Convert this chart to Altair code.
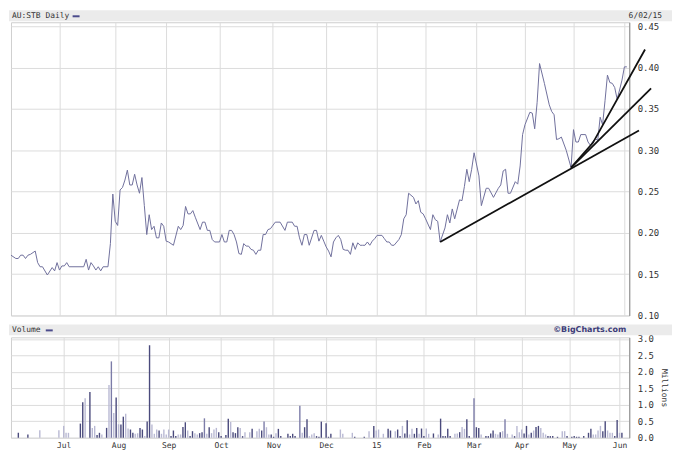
import altair as alt
import pandas as pd

# ---- data (trading-day index from 2 Jun 2014 to 2 Jun 2015) ----
month_days = [20, 43, 64, 86, 108, 130, 151, 171, 192, 212, 232, 253]
month_labels = ["Jul", "Aug", "Sep", "Oct", "Nov", "Dec", "15", "Feb", "Mar", "Apr", "May", "Jun"]

price_day = [
    0, 2, 3, 4, 5, 6, 7, 8, 10, 11,
    12, 13, 15, 17, 18, 19, 20, 21, 22, 23,
    24, 30, 31, 32, 33, 34, 35, 36, 37, 38,
    40, 41, 42, 43, 44, 45, 46, 47, 48, 49,
    50, 51, 52, 53, 54, 55, 56, 57, 58, 59,
    60, 61, 62, 63, 64, 65, 67, 69, 70, 71,
    72, 73, 74, 75, 76, 78, 79, 80, 81, 82,
    83, 84, 86, 87, 88, 89, 90, 91, 92, 93,
    94, 95, 96, 97, 98, 99, 100, 101, 102, 103,
    104, 105, 106, 107, 109, 111, 113, 114, 116, 117,
    118, 119, 120, 121, 122, 123, 125, 126, 127, 128,
    129, 130, 131, 132, 133, 134, 135, 136, 137, 138,
    139, 140, 141, 142, 143, 144, 145, 146, 147, 148,
    149, 150, 151, 153, 154, 155, 156, 157, 158, 160,
    161, 162, 163, 164, 166, 167, 168, 169, 170, 171,
    173, 174, 175, 176, 177, 179, 180, 181, 182, 183,
    185, 186, 187, 188, 189, 190, 191, 193, 194, 196,
    197, 199, 201, 202, 203, 204, 205, 206, 208, 209,
    210, 211, 212, 214, 215, 216, 217, 218, 220, 222,
    223, 224, 225, 226, 227, 229, 231, 232, 233, 234,
    235, 237, 238, 239, 240, 241, 242, 243, 244, 245,
    246, 247, 248, 249, 250, 251, 252, 253, 254]
price_val = [
    0.173, 0.169, 0.169, 0.173, 0.173, 0.169, 0.173, 0.174, 0.178, 0.164,
    0.159, 0.159, 0.149, 0.158, 0.154, 0.164, 0.155, 0.160, 0.160, 0.164,
    0.159, 0.159, 0.168, 0.155, 0.164, 0.160, 0.155, 0.159, 0.154, 0.159,
    0.159, 0.187, 0.247, 0.214, 0.209, 0.252, 0.255, 0.264, 0.276, 0.258,
    0.258, 0.271, 0.258, 0.248, 0.267, 0.233, 0.198, 0.222, 0.204, 0.208,
    0.194, 0.194, 0.212, 0.208, 0.190, 0.189, 0.185, 0.208, 0.204, 0.209,
    0.232, 0.223, 0.223, 0.227, 0.219, 0.204, 0.213, 0.213, 0.203, 0.203,
    0.192, 0.189, 0.189, 0.198, 0.189, 0.189, 0.203, 0.203, 0.198, 0.189,
    0.175, 0.174, 0.187, 0.184, 0.184, 0.180, 0.179, 0.174, 0.179, 0.179,
    0.198, 0.198, 0.204, 0.205, 0.213, 0.213, 0.203, 0.213, 0.213, 0.208,
    0.208, 0.194, 0.185, 0.198, 0.198, 0.185, 0.203, 0.203, 0.190, 0.197,
    0.190, 0.183, 0.178, 0.171, 0.189, 0.194, 0.197, 0.192, 0.180, 0.179,
    0.179, 0.174, 0.188, 0.180, 0.188, 0.185, 0.185, 0.185, 0.189, 0.185,
    0.190, 0.193, 0.197, 0.197, 0.193, 0.189, 0.189, 0.185, 0.185, 0.192,
    0.198, 0.217, 0.222, 0.248, 0.243, 0.235, 0.239, 0.225, 0.223, 0.217,
    0.204, 0.222, 0.216, 0.214, 0.189, 0.206, 0.222, 0.212, 0.229, 0.217,
    0.240, 0.239, 0.256, 0.277, 0.262, 0.277, 0.297, 0.269, 0.233, 0.254,
    0.254, 0.243, 0.254, 0.258, 0.275, 0.277, 0.248, 0.248, 0.262, 0.259,
    0.281, 0.319, 0.331, 0.346, 0.345, 0.326, 0.358, 0.405, 0.381, 0.355,
    0.347, 0.343, 0.313, 0.314, 0.316, 0.300, 0.279, 0.325, 0.310, 0.310,
    0.319, 0.319, 0.310, 0.306, 0.311, 0.314, 0.312, 0.340, 0.331, 0.360,
    0.391, 0.382, 0.381, 0.376, 0.362, 0.373, 0.385, 0.401, 0.401]

trend_id = ["a", "a", "b", "b", "c", "c", "c"]
trend_day = [177, 259, 231, 264, 231, 240, 261.5]
trend_price = [0.189, 0.324, 0.279, 0.375, 0.279, 0.309, 0.422]

vol_day = [
    1, 5, 10, 18, 20, 21, 22, 27, 28, 29,
    31, 32, 33, 34, 35, 36, 38, 39, 40, 41,
    42, 43, 44, 45, 46, 47, 48, 49, 50, 51,
    52, 53, 54, 55, 56, 57, 58, 59, 60, 61,
    62, 63, 64, 65, 66, 67, 68, 69, 70, 71,
    72, 73, 74, 75, 76, 77, 78, 79, 80, 81,
    82, 83, 84, 85, 86, 88, 89, 90, 91, 92,
    93, 94, 95, 96, 98, 99, 101, 102, 103, 104,
    105, 106, 107, 108, 109, 110, 111, 114, 115, 116,
    117, 119, 120, 121, 122, 123, 124, 125, 126, 127,
    128, 130, 131, 132, 136, 137, 141, 142, 146, 148,
    150, 151, 152, 154, 156, 157, 159, 160, 161, 162,
    163, 164, 165, 166, 167, 168, 169, 170, 171, 172,
    173, 175, 177, 178, 179, 180, 181, 182, 184, 185,
    186, 187, 188, 189, 190, 192, 193, 194, 195, 197,
    198, 199, 200, 201, 202, 203, 204, 205, 206, 208,
    209, 210, 211, 212, 213, 214, 215, 216, 217, 218,
    219, 220, 221, 222, 223, 224, 225, 227, 229, 230,
    231, 233, 234, 235, 236, 238, 240, 241, 242, 243,
    244, 245, 246, 247, 248, 249, 250, 251, 252, 253,
    254]
vol_val = [
    0.15, 0.10, 0.23, 0.23, 0.36, 0.15, 0.15, 0.43, 1.08, 1.20,
    1.39, 0.30, 0.36, 0.08, 0.15, 0.10, 0.30, 1.60, 2.32, 0.75,
    1.22, 0.41, 0.40, 0.64, 0.73, 0.28, 0.25, 0.15, 0.12, 0.14,
    0.30, 0.25, 0.05, 0.49, 2.81, 0.40, 0.12, 0.25, 0.22, 0.12,
    0.25, 0.10, 0.25, 0.05, 0.22, 0.05, 0.10, 0.10, 0.33, 0.47,
    0.22, 0.05, 0.20, 0.14, 0.10, 0.14, 0.17, 0.59, 0.12, 0.32,
    0.14, 0.25, 0.30, 0.17, 0.05, 0.08, 0.58, 0.48, 0.17, 0.14,
    0.32, 0.30, 0.05, 0.17, 0.17, 0.27, 0.20, 0.27, 0.22, 0.49,
    0.32, 0.10, 0.10, 0.03, 0.14, 0.27, 0.05, 0.12, 0.05, 0.12,
    0.05, 0.97, 0.15, 0.32, 0.56, 0.05, 0.10, 0.14, 0.05, 0.03,
    0.49, 0.44, 0.03, 0.12, 0.25, 0.12, 0.15, 0.03, 0.03, 0.20,
    0.36, 0.22, 0.25, 0.12, 0.27, 0.22, 0.20, 0.25, 0.05, 0.36,
    0.13, 0.53, 0.10, 0.27, 0.12, 0.30, 0.12, 0.28, 0.05, 0.28,
    0.12, 0.13, 0.10, 0.58, 0.05, 0.05, 0.27, 0.05, 0.12, 0.13,
    0.17, 0.33, 0.27, 0.56, 0.05, 1.20, 0.32, 0.30, 0.10, 0.05,
    0.05, 0.13, 0.22, 0.12, 0.10, 0.17, 0.20, 0.56, 0.12, 0.10,
    0.05, 0.36, 0.17, 0.25, 0.13, 0.36, 0.10, 0.15, 0.22, 0.33,
    0.36, 0.30, 0.15, 0.10, 0.05, 0.05, 0.05, 0.03, 0.20, 0.20,
    0.05, 0.03, 0.05, 0.03, 0.03, 0.05, 0.15, 0.27, 0.10, 0.10,
    0.22, 0.36, 0.20, 0.50, 0.22, 0.15, 0.15, 0.05, 0.54, 0.15,
    0.15]
vol_kind = list(
    "DDLLLLLDDL"
    "DLLDDLDLML"
    "DLDDLLDDLL"
    "DDLDDLLLDL"
    "LLLDDDLLDD"
    "LDDLLDDMLD"
    "LLLDDDDLDD"
    "DLDLLDLLDM"
    "LLDDLDDDDD"
    "DMLDDLLLDD"
    "DDDDLLLDDL"
    "DLLLDDLDDL"
    "DDLLDDLDDL"
    "LDLDDDDDLL"
    "DLLDDMDDLD"
    "DDDLLDLMLL"
    "DLLLDDLDLD"
    "DLLLDDDDLL"
    "DDDDDDDDLL"
    "LLDDLLLDDL"
    "D")

W = 622
HP = 295
HV = 101
MONO = "DejaVu Sans Mono"
SANS = "DejaVu Sans"
GRID = "#dcdcdc"
BAND = "#ebebeb"

label_expr = "[" + ",".join("'%s'" % s for s in month_labels) + "][indexof([" + \
    ",".join(str(d) for d in month_days) + "], datum.value)]"

xs = alt.Scale(domain=[0, 255], nice=False, zero=False)
x_grid = alt.Axis(values=month_days, labels=False, ticks=False, domain=False,
                  grid=True, gridColor=GRID, title=None)

one = pd.DataFrame({"k": [0]})

# ---------- price panel ----------
price_df = pd.DataFrame({"day": price_day, "price": price_val})
trend_df = pd.DataFrame({"id": trend_id, "day": trend_day, "price": trend_price})

ys = alt.Scale(domain=[0.10, 0.455], nice=False, zero=False)
y_axis = alt.Axis(orient="right", values=[0.10, 0.15, 0.20, 0.25, 0.30, 0.35, 0.40, 0.45],
                  format=".2f", grid=True, gridColor=GRID, ticks=False, domainColor="#8a8a8a",
                  labelFont=MONO, labelFontSize=9, labelColor="#333333", labelPadding=8,
                  title=None)

band_top = alt.Chart(one).mark_rect(color=BAND).encode(
    x=alt.value(-2), x2=alt.value(W + 43), y=alt.value(-12), y2=alt.value(-1))
title_txt = alt.Chart(one).mark_text(align="left", baseline="middle", font=MONO,
                                     fontSize=8, color="#333333").encode(
    x=alt.value(1), y=alt.value(-6), text=alt.value("AU:STB Daily"))
title_dash = alt.Chart(one).mark_rule(color="#4b4b8c", strokeWidth=2).encode(
    x=alt.value(62), x2=alt.value(69), y=alt.value(-6))
date_txt = alt.Chart(one).mark_text(align="right", baseline="middle", font=MONO,
                                    fontSize=8, color="#333333").encode(
    x=alt.value(W + 33), y=alt.value(-6), text=alt.value("6/02/15"))

price_line = alt.Chart(price_df).mark_line(color="#70709c", strokeWidth=1).encode(
    x=alt.X("day:Q", scale=xs, axis=x_grid),
    y=alt.Y("price:Q", scale=ys, axis=y_axis))
trend_lines = alt.Chart(trend_df).mark_line(color="#111111", strokeWidth=1.8).encode(
    x=alt.X("day:Q", scale=xs, axis=x_grid),
    y=alt.Y("price:Q", scale=ys, axis=y_axis),
    detail="id:N")

price_chart = alt.layer(band_top, title_txt, title_dash, date_txt, price_line, trend_lines
                        ).properties(width=W, height=HP)

# ---------- volume panel ----------
vol_df = pd.DataFrame({"day": vol_day, "vol": vol_val, "kind": vol_kind})

band_vol = alt.Chart(one).mark_rect(color=BAND).encode(
    x=alt.value(-2), x2=alt.value(W + 43), y=alt.value(-13), y2=alt.value(-2))
vol_txt = alt.Chart(one).mark_text(align="left", baseline="middle", font=MONO,
                                   fontSize=8, color="#333333").encode(
    x=alt.value(1), y=alt.value(-7), text=alt.value("Volume"))
vol_dash = alt.Chart(one).mark_rule(color="#4b4b8c", strokeWidth=2).encode(
    x=alt.value(35), x2=alt.value(42), y=alt.value(-7))
bc_txt = alt.Chart(one).mark_text(align="right", baseline="middle", font=SANS,
                                  fontSize=8, fontWeight="bold", color="#3c3c78").encode(
    x=alt.value(W - 3), y=alt.value(-7), text=alt.value("©BigCharts.com"))

vol_bars = alt.Chart(vol_df).mark_bar(size=1.4).encode(
    x=alt.X("day:Q", scale=xs,
            axis=alt.Axis(values=month_days, labelExpr=label_expr, ticks=False, domain=False,
                          grid=True, gridColor=GRID, labelFont=MONO, labelFontSize=8,
                          labelColor="#333333", labelPadding=4, title=None)),
    y=alt.Y("vol:Q", scale=alt.Scale(domain=[0, 3.05], nice=False),
            axis=alt.Axis(orient="right", values=[0, 0.5, 1.0, 1.5, 2.0, 2.5, 3.0],
                          format=".1f", grid=True, gridColor=GRID, ticks=False,
                          domainColor="#8a8a8a", labelFont=MONO, labelFontSize=9,
                          labelColor="#333333", labelPadding=8, title="Millions",
                          titleFont=MONO, titleFontSize=8, titleFontWeight="normal",
                          titleColor="#333333", titlePadding=6)),
    color=alt.Color("kind:N", scale=alt.Scale(domain=["D", "L", "M"],
                                              range=["#4a4a7c", "#b9b9d3", "#7c7ca8"]),
                    legend=None))

vol_chart = alt.layer(band_vol, vol_txt, vol_dash, bc_txt, vol_bars).properties(width=W, height=HV)

chart = alt.vconcat(price_chart, vol_chart, spacing=2).configure_view(
    stroke="#cfcfcf").properties(padding={"left": 0, "top": 0, "right": 0, "bottom": 0})

chart.save("out.html", embed_options={"renderer": "svg", "actions": False})
